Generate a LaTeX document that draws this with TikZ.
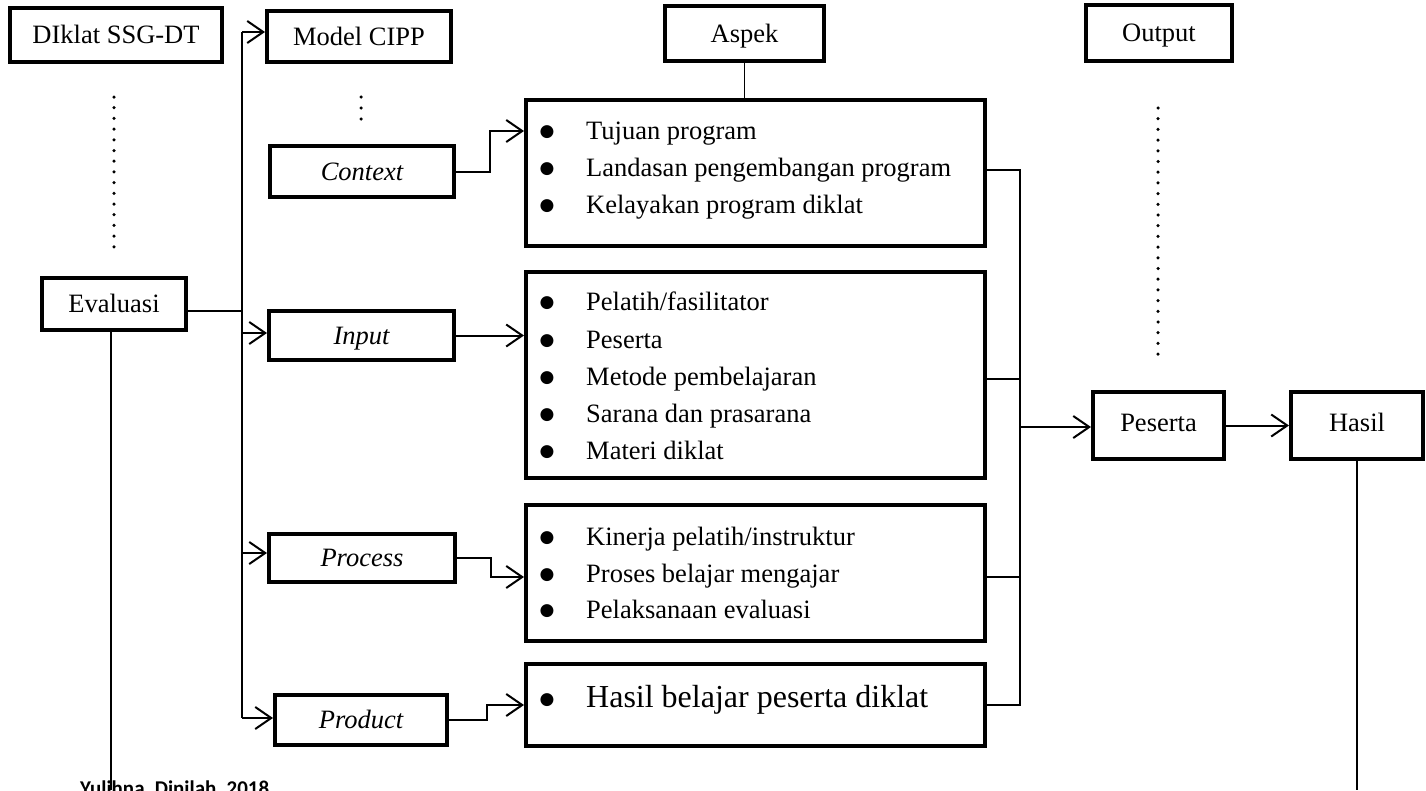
\documentclass[tikz,border=0pt]{standalone}
\usepackage{fontspec}
\setmainfont{Liberation Serif}
\newfontfamily\footfont{Carlito}
\newfontfamily\dv{DejaVu Sans}
\usetikzlibrary{arrows.meta,calc}
\newcommand\fsA{\fontsize{26.5}{30}\selectfont}
\newcommand\fsB{\fontsize{32}{36}\selectfont}
\newcommand\bul{\hspace*{2.5pt}\raisebox{3pt}{\dv\fontsize{17}{17}\selectfont ●}}
\begin{document}
\begin{tikzpicture}[x=1pt,y=-1pt,
  box/.style={draw,line width=4pt,inner sep=0pt,text height=17.5pt,text depth=0pt,font=\fsA},
  conn/.style={line width=2pt},
  arr/.style={conn,-{Straight Barb[length=16pt,width=22pt]}},
  item/.style={anchor=base west,inner sep=0pt,font=\fsA},
  dots/.style={line width=3.5pt,line cap=round,dash pattern=on 0pt off 10.7pt}]
\useasboundingbox (0,0) rectangle (1426,790);

% boxes
\node[box,minimum width=212pt,minimum height=54pt] (diklat) at (116,35) {DIklat SSG-DT};
\node[box,minimum width=184pt,minimum height=51pt] (cipp) at (359,36.5) {Model CIPP};
\node[box,minimum width=184pt,minimum height=51pt,font=\fsA\itshape] (ctx) at (362,171.5) {Context};
\node[box,minimum width=185pt,minimum height=49pt,font=\fsA\itshape] (inp) at (361.5,335.5) {Input};
\node[box,minimum width=186pt,minimum height=48pt,font=\fsA\itshape] (proc) at (362,558) {Process};
\node[box,minimum width=172pt,minimum height=50pt,font=\fsA\itshape] (prod) at (361,720) {Product};
\node[box,minimum width=144pt,minimum height=52pt] (eval) at (114,304) {Evaluasi};
\node[box,minimum width=159pt,minimum height=55pt] (aspek) at (744.5,33.5) {Aspek};
\node[box,minimum width=459pt,minimum height=146pt] (a1) at (755.5,173) {};
\node[box,minimum width=459pt,minimum height=206pt] (a2) at (755.5,375) {};
\node[box,minimum width=459pt,minimum height=136pt] (a3) at (755.5,573) {};
\node[box,minimum width=459pt,minimum height=82pt] (a4) at (755.5,705) {};
\node[box,minimum width=146pt,minimum height=56pt] (out) at (1159,33) {Output};
\node[box,minimum width=131pt,minimum height=67pt,text depth=6.5pt] (pes) at (1158.5,425.5) {Peserta};
\node[box,minimum width=132pt,minimum height=67pt,text depth=6.5pt] (has) at (1357,425.5) {Hasil};

% list items
\node[item] (i11) at (537,139) {\makebox[49pt][l]{\bul}Tujuan program};
\node[item] (i12) at (537,176) {\makebox[49pt][l]{\bul}Landasan pengembangan program};
\node[item] (i13) at (537,213) {\makebox[49pt][l]{\bul}Kelayakan program diklat};
\node[item] (i21) at (537,310) {\makebox[49pt][l]{\bul}Pelatih/fasilitator};
\node[item] (i22) at (537,348) {\makebox[49pt][l]{\bul}Peserta};
\node[item] (i23) at (537,385) {\makebox[49pt][l]{\bul}Metode pembelajaran};
\node[item] (i24) at (537,422) {\makebox[49pt][l]{\bul}Sarana dan prasarana};
\node[item] (i25) at (537,459) {\makebox[49pt][l]{\bul}Materi diklat};
\node[item] (i31) at (537,545) {\makebox[49pt][l]{\bul}Kinerja pelatih/instruktur};
\node[item] (i32) at (537,582) {\makebox[49pt][l]{\bul}Proses belajar mengajar};
\node[item] (i33) at (537,618) {\makebox[49pt][l]{\bul}Pelaksanaan evaluasi};
\node[item,font=\fsB] (i41) at (537,707) {\makebox[49pt][l]{\bul}Hasil belajar peserta diklat};

% footer
\node[anchor=base west,inner sep=0pt,font=\footfont\bfseries\fontsize{21}{23}\selectfont] (src) at (80,795) {Yulihna, Dinilah, 2018};

% dotted lines
\draw[dots] (114,97) -- (114,247.5);
\draw[dots,dash pattern=on 0pt off 11pt] (361,97) -- (361,119.5);
\draw[dots] (1158,108) -- (1158,354.5);

% left bus
\coordinate (bt) at (242,32);
\coordinate (bi) at (242,333);
\coordinate (bp) at (242,553);
\coordinate (bb) at (242,718);
\coordinate (ev) at ($(eval.east)+(0,7)$);
\draw[conn] (bt) -- (bb);
\draw[conn] (ev) -- (ev -| bt);
\draw[arr] (bt) -- (bt -| cipp.west);
\draw[arr] (bi) -- (bi -| inp.west);
\draw[arr] (bp) -- (bp -| proc.west);
\draw[arr] (bb) -- (bb -| prod.west);

% CIPP to aspects
\coordinate (cs) at (490,131);
\coordinate (ps) at (491,577);
\coordinate (ds) at (487,705);
\draw[arr] (ctx.east) -| (cs) -- (cs -| a1.west);
\draw[arr] (inp.east) -- (inp.east -| a2.west);
\draw[arr] (proc.east) -| (ps) -- (ps -| a3.west);
\draw[arr] (prod.east) -| (ds) -- (ds -| a4.west);
\draw[line width=1.5pt] (aspek.south) -- (aspek.south |- a1.north);

% right bus
\coordinate (r1) at (1020,170);
\coordinate (r2) at (1020,379);
\coordinate (r3) at (1020,577);
\coordinate (r4) at (1020,705);
\coordinate (rp) at (1020,427);
\draw[conn] (r1 -| a1.east) -- (r1) -- (r4) -- (r4 -| a4.east);
\draw[conn] (r2 -| a2.east) -- (r2);
\draw[conn] (r3 -| a3.east) -- (r3);
\draw[arr] (rp) -- (rp -| pes.west);
\draw[arr] (pes.east) -- (has.west);

% vertical lines to bottom
\coordinate (evb) at (111,790);
\draw[conn] (evb |- eval.south) -- (evb);
\draw[conn] (has.south) -- (has.south |- evb);
\end{tikzpicture}
\end{document}
